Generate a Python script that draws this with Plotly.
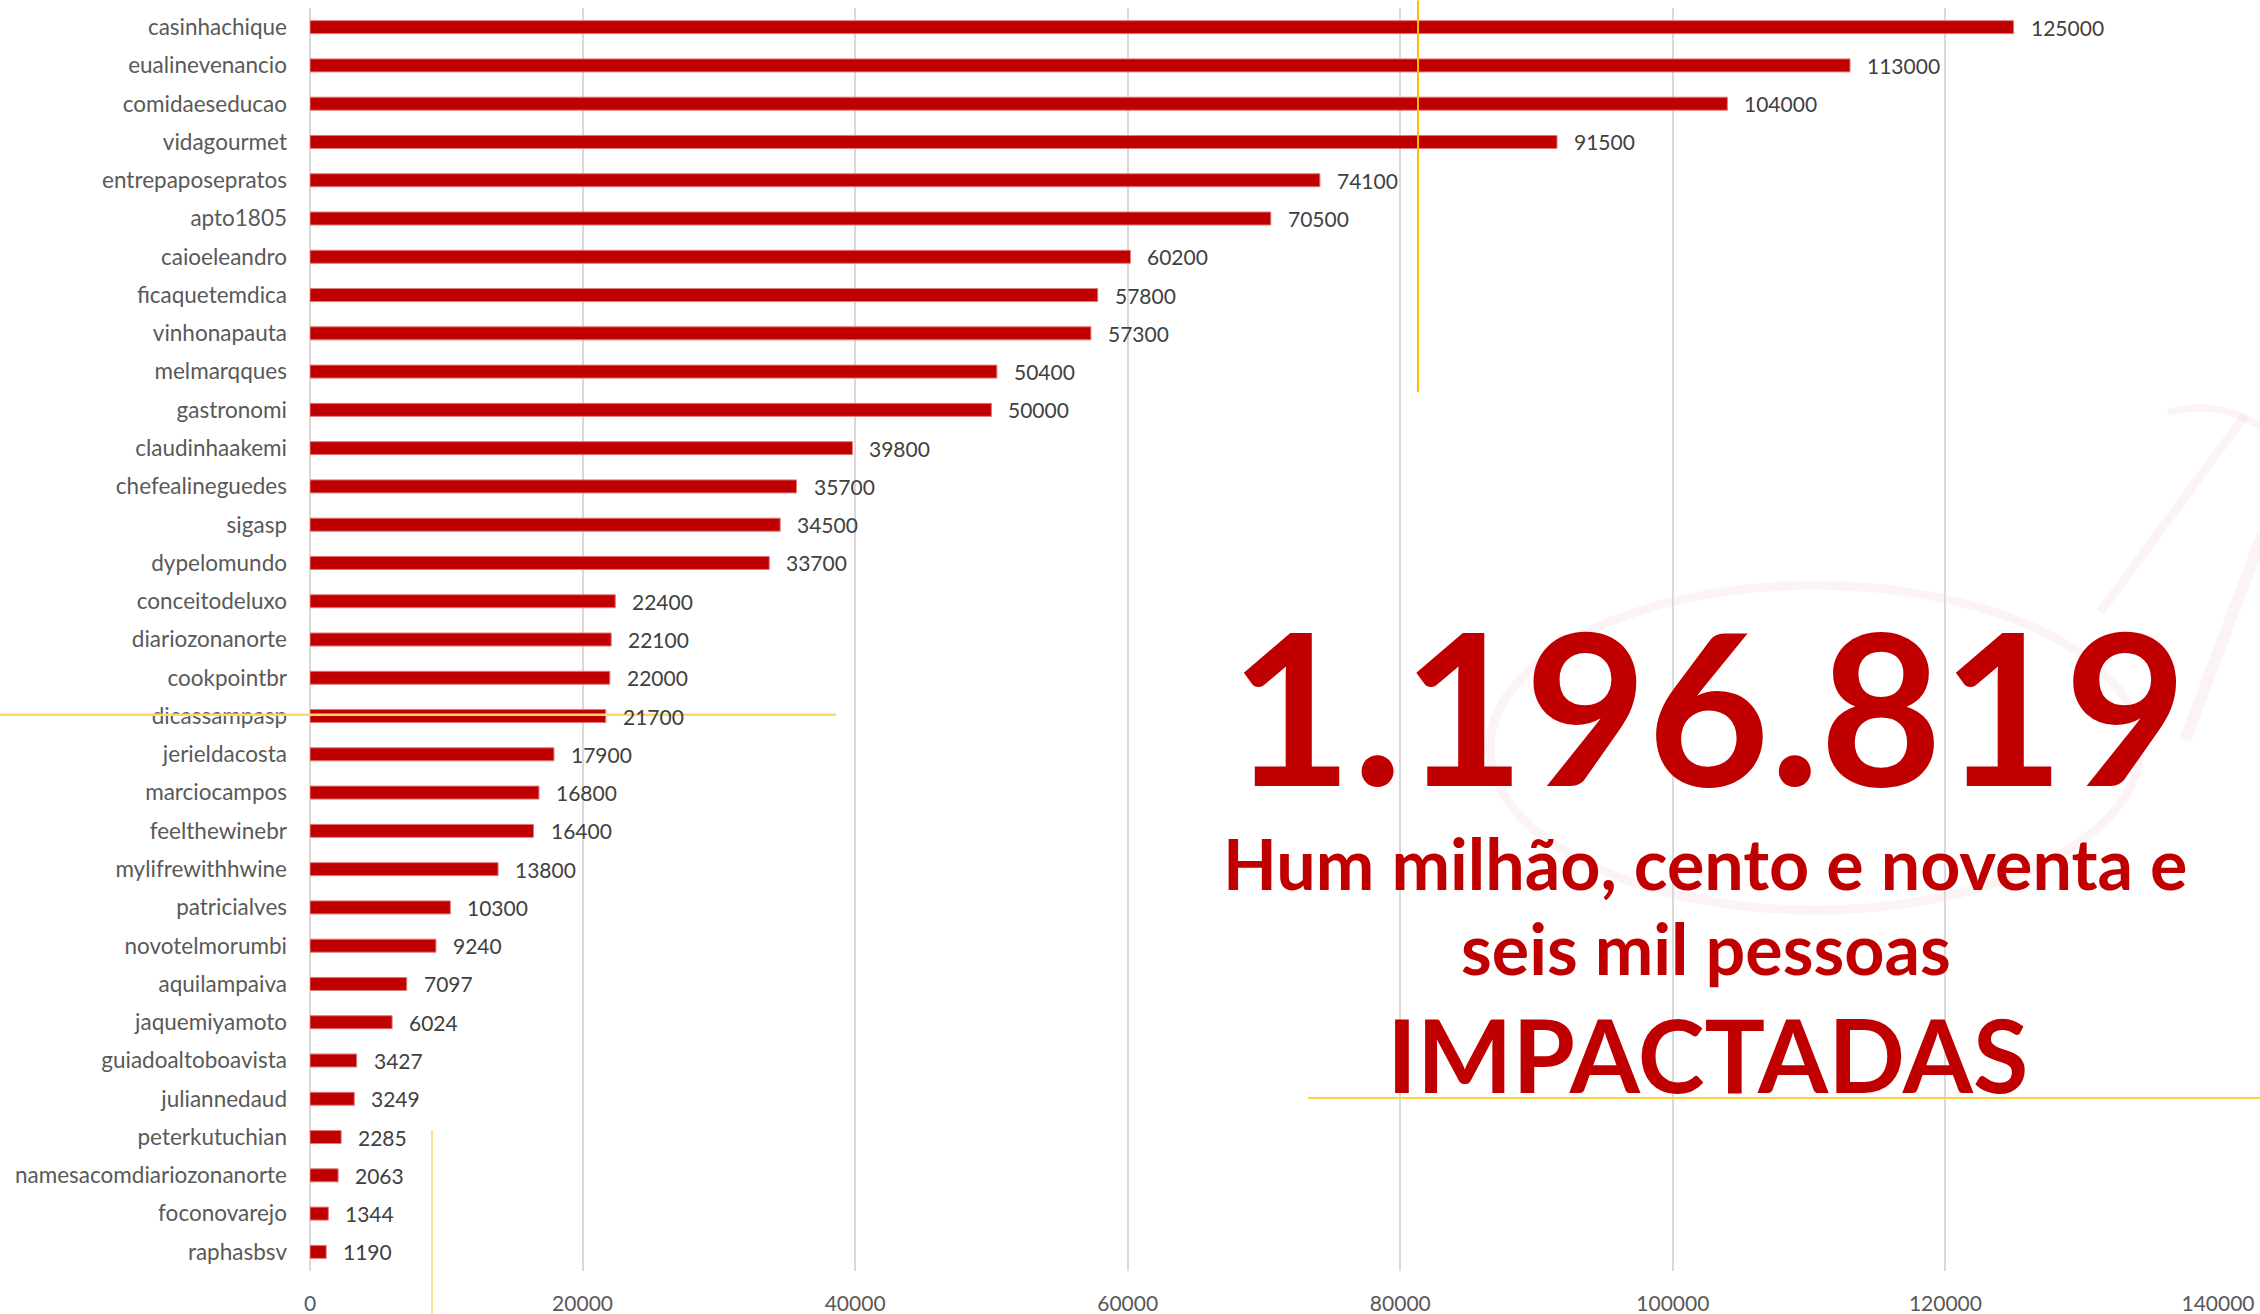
import plotly.graph_objects as go

categories = [
    "casinhachique", "eualinevenancio", "comidaeseducao", "vidagourmet",
    "entrepaposepratos", "apto1805", "caioeleandro", "ficaquetemdica",
    "vinhonapauta", "melmarqques", "gastronomi", "claudinhaakemi",
    "chefealineguedes", "sigasp", "dypelomundo", "conceitodeluxo",
    "diariozonanorte", "cookpointbr", "dicassampasp", "jerieldacosta",
    "marciocampos", "feelthewinebr", "mylifrewithhwine", "patricialves",
    "novotelmorumbi", "aquilampaiva", "jaquemiyamoto", "guiadoaltoboavista",
    "juliannedaud", "peterkutuchian", "namesacomdiariozonanorte",
    "foconovarejo", "raphasbsv",
]
values = [
    125000, 113000, 104000, 91500, 74100, 70500, 60200, 57800, 57300, 50400,
    50000, 39800, 35700, 34500, 33700, 22400, 22100, 22000, 21700, 17900,
    16800, 16400, 13800, 10300, 9240, 7097, 6024, 3427, 3249, 2285, 2063,
    1344, 1190,
]
x_ticks = [0, 20000, 40000, 60000, 80000, 100000, 120000, 140000]
big_number = "1.196.819"
subtitle_1 = "Hum milhão, cento e noventa e"
subtitle_2 = "seis mil pessoas"
subtitle_3 = "IMPACTADAS"

W, H = 2260, 1314
L, R, T, B = 310, 2218, 7.5, 1271

def px(x):
    return (x - L) / (R - L)

def py(y):
    return (B - y) / (B - T)

RED = "#C00000"
FONT = "Lato"

fig = go.Figure(
    go.Bar(
        x=values, y=categories, orientation="h",
        marker=dict(color=RED, line=dict(color="#E07A7A", width=1)),
        hoverinfo="skip",
    )
)

for c, v in zip(categories, values):
    fig.add_annotation(
        x=v, y=c, text=str(v), xanchor="left", yanchor="middle", xshift=15,
        showarrow=False, font=dict(family=FONT, size=21, color="#404040"),
    )

# big headline texts
fig.add_annotation(xref="paper", yref="paper", x=px(1708), y=py(704),
                   text=f"<b>{big_number}</b>", showarrow=False,
                   xanchor="center", yanchor="middle",
                   font=dict(family=FONT, size=211, color=RED))
fig.add_annotation(xref="paper", yref="paper", x=px(1705), y=py(863),
                   text=f"<b>{subtitle_1}</b>", showarrow=False,
                   xanchor="center", yanchor="middle",
                   font=dict(family=FONT, size=70, color=RED))
fig.add_annotation(xref="paper", yref="paper", x=px(1706), y=py(948),
                   text=f"<b>{subtitle_2}</b>", showarrow=False,
                   xanchor="center", yanchor="middle",
                   font=dict(family=FONT, size=70, color=RED))
fig.add_annotation(xref="paper", yref="paper", x=px(1707), y=py(1054),
                   text=f"<b>{subtitle_3}</b>", showarrow=False,
                   xanchor="center", yanchor="middle",
                   font=dict(family=FONT, size=101, color=RED))

shapes = []
# faint watermark
wm = "rgba(192,0,0,0.045)"
shapes.append(dict(type="circle", xref="paper", yref="paper",
                   x0=px(1490), x1=px(2140), y0=py(585), y1=py(910),
                   line=dict(color=wm, width=9), layer="below"))
shapes.append(dict(type="line", xref="paper", yref="paper",
                   x0=px(2100), y0=py(612), x1=px(2245), y1=py(415),
                   line=dict(color=wm, width=9), layer="below"))
shapes.append(dict(type="line", xref="paper", yref="paper",
                   x0=px(2185), y0=py(740), x1=px(2262), y1=py(535),
                   line=dict(color=wm, width=12), layer="below"))
shapes.append(dict(type="path", xref="paper", yref="paper",
                   path=f"M {px(2168)} {py(412)} Q {px(2220)} {py(398)} {px(2262)} {py(428)}",
                   line=dict(color=wm, width=7), layer="below"))
# decorative yellow lines
shapes.append(dict(type="line", xref="paper", yref="paper",
                   x0=px(1418), x1=px(1418), y0=py(0), y1=py(392),
                   line=dict(color="#FFC000", width=2)))
shapes.append(dict(type="line", xref="paper", yref="paper",
                   x0=px(0), x1=px(836), y0=py(714.5), y1=py(714.5),
                   line=dict(color="#FFD966", width=2.5)))
shapes.append(dict(type="line", xref="paper", yref="paper",
                   x0=px(1308), x1=px(2262), y0=py(1098), y1=py(1098),
                   line=dict(color="#FFD43B", width=2)))
shapes.append(dict(type="line", xref="paper", yref="paper",
                   x0=px(432), x1=px(432), y0=py(1130), y1=py(1316),
                   line=dict(color="#FFD966", width=1.5)))

fig.update_layout(
    width=W, height=H,
    margin=dict(l=L, r=W - R, t=T, b=H - B, pad=0, autoexpand=False),
    paper_bgcolor="white", plot_bgcolor="white",
    bargap=0.66, showlegend=False,
    font=dict(family=FONT, size=21, color="#595959"),
    shapes=shapes,
    xaxis=dict(
        range=[0, 140000], tickvals=x_ticks, ticktext=[str(t) for t in x_ticks],
        showgrid=True, gridcolor="#D9D9D9", gridwidth=1.5,
        zeroline=True, zerolinecolor="#D9D9D9", zerolinewidth=2,
        showline=False, ticks="", ticklabelstandoff=18, automargin=False,
        tickfont=dict(family=FONT, size=21, color="#595959"),
        fixedrange=True,
    ),
    yaxis=dict(
        autorange="reversed", showgrid=False, zeroline=False, showline=False,
        ticks="", ticklabelstandoff=22, automargin=False,
        tickfont=dict(family=FONT, size=22.5, color="#595959"),
        fixedrange=True,
    ),
)

fig.write_html(
    "out.html",
    config={"displayModeBar": False},
    post_script="document.body.style.margin='0';document.body.style.overflow='hidden';",
)
